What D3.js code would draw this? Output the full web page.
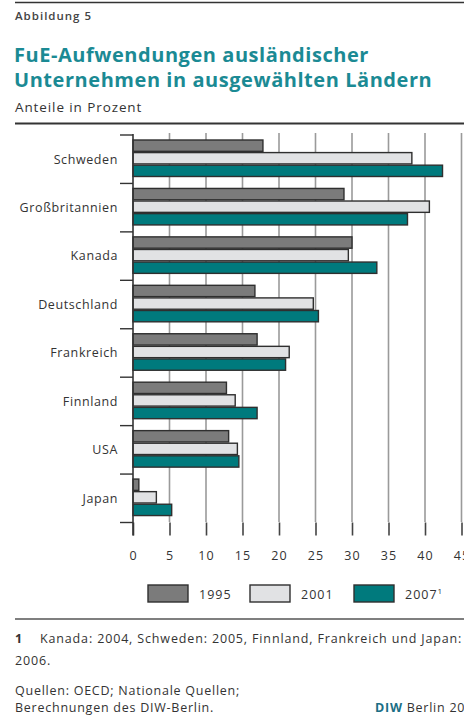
<!DOCTYPE html>
<html>
<head>
<meta charset="utf-8">
<script src="https://cdn.jsdelivr.net/npm/d3@7"></script>
<style>
  body { margin: 0; background: #fff; }
  svg { display: block; font-family: "Open Sans", sans-serif; }
</style>
</head>
<body>
<script>
//chart values
var countries = ["Schweden", "Großbritannien", "Kanada", "Deutschland", "Frankreich", "Finnland", "USA", "Japan"];
var years = ["1995", "2001", "2007"];
var v1995 = [17.8, 28.9, 30.0, 16.7, 17.0, 12.8, 13.1, 0.8];
var v2001 = [38.2, 40.6, 29.5, 24.7, 21.4, 14.0, 14.3, 3.2];
var v2007 = [42.4, 37.6, 33.4, 25.4, 20.9, 17.0, 14.5, 5.3];
var tickLabels = [0, 5, 10, 15, 20, 25, 30, 35, 40, 45];
var colors = ["#7b7b7b", "#e1e2e4", "#007a7d"];

window.onload = draw();

function draw(){
    var width = 464,
        height = 716;

    var svg = d3.select("body")
        .append("svg")
        .attr("width", width)
        .attr("height", height);

    //header rules and texts
    svg.append("line")
        .attr("x1", 15).attr("x2", width)
        .attr("y1", 2.5).attr("y2", 2.5)
        .style("stroke", "#333").style("stroke-width", 1.5);

    svg.append("text")
        .attr("x", 15).attr("y", 20)
        .style("font-size", "11.5px").style("font-weight", "600")
        .style("letter-spacing", "1px")
        .style("fill", "#444")
        .text("Abbildung 5");

    var title = svg.append("text")
        .style("font-size", "20px").style("font-weight", "bold")
        .style("letter-spacing", "0.55px")
        .style("fill", "#1b8a94");
    title.append("tspan").attr("x", 14).attr("y", 61.5).text("FuE-Aufwendungen ausländischer");
    title.append("tspan").attr("x", 14).attr("y", 86.5).text("Unternehmen in ausgewählten Ländern");

    svg.append("text")
        .attr("x", 15).attr("y", 112)
        .style("font-size", "13.5px").style("fill", "#333")
        .style("letter-spacing", "0.9px")
        .text("Anteile in Prozent");

    svg.append("line")
        .attr("x1", 15).attr("x2", width)
        .attr("y1", 123.5).attr("y2", 123.5)
        .style("stroke", "#333").style("stroke-width", 2);

    //scales
    var x = d3.scaleLinear()
        .domain([0, 45])
        .range([133, 461.5]);

    var y = d3.scaleBand()
        .domain(countries)
        .range([135, 522.5])
        .padding(0);

    var yInner = d3.scaleBand()
        .domain(years)
        .range([5, 41.5])
        .paddingInner(0.1);

    //vertical gridlines
    svg.selectAll(".grid")
        .data(tickLabels.slice(1))
        .enter()
        .append("line")
        .attr("class", "grid")
        .attr("x1", function(d){ return x(d); })
        .attr("x2", function(d){ return x(d); })
        .attr("y1", 133)
        .attr("y2", 522)
        .style("stroke", "#9a9a9a")
        .style("stroke-width", 1.6);

    //bottom axis with ticks and labels
    var xAxis = d3.axisBottom(x)
        .tickValues(tickLabels)
        .tickSizeInner(13)
        .tickSizeOuter(0)
        .tickPadding(16)
        .tickFormat(function(d){ return d; });

    var gx = svg.append("g")
        .attr("transform", "translate(0,522.5)")
        .call(xAxis);
    gx.select(".domain").remove();
    gx.selectAll(".tick line").style("stroke", "#444").style("stroke-width", 1.6);
    gx.selectAll(".tick text")
        .style("font-size", "12.5px")
        .style("letter-spacing", "1px")
        .style("fill", "#333")
        .style("font-family", "'Open Sans', sans-serif");

    //bars
    var series = [v1995, v2001, v2007];
    var rows = [];
    countries.forEach(function(c, i){
        years.forEach(function(yr, j){
            rows.push({country: c, year: yr, value: series[j][i], k: j});
        });
    });

    svg.selectAll(".bar")
        .data(rows)
        .enter()
        .append("rect")
        .attr("class", "bar")
        .attr("x", x(0))
        .attr("y", function(d){ return y(d.country) + yInner(d.year); })
        .attr("width", function(d){ return x(d.value) - x(0); })
        .attr("height", yInner.bandwidth())
        .style("fill", function(d){ return colors[d.k]; })
        .style("stroke", "#2f2f2f")
        .style("stroke-width", 1.4);

    //left axis line and category separators
    svg.append("line")
        .attr("x1", x(0)).attr("x2", x(0))
        .attr("y1", 134).attr("y2", 535.5)
        .style("stroke", "#333").style("stroke-width", 1.6);

    var bounds = countries.map(function(c){ return y(c); }).concat([y.range()[1]]);
    svg.selectAll(".ytick")
        .data(bounds)
        .enter()
        .append("line")
        .attr("class", "ytick")
        .attr("x1", 120).attr("x2", x(0))
        .attr("y1", function(d){ return d; })
        .attr("y2", function(d){ return d; })
        .style("stroke", "#333").style("stroke-width", 1.4);

    svg.selectAll(".ylabel")
        .data(countries)
        .enter()
        .append("text")
        .attr("class", "ylabel")
        .attr("x", 118)
        .attr("y", function(d){ return y(d) + y.bandwidth() / 2; })
        .attr("dy", "0.35em")
        .attr("text-anchor", "end")
        .style("font-size", "12.5px")
        .style("letter-spacing", "0.6px")
        .style("fill", "#333")
        .text(function(d){ return d; });

    //legend
    var legendX = [148, 250, 354];
    var legend = svg.selectAll(".legend")
        .data(years)
        .enter()
        .append("g")
        .attr("class", "legend")
        .attr("transform", function(d, i){ return "translate(" + legendX[i] + ",585)"; });

    legend.append("rect")
        .attr("width", 40)
        .attr("height", 17)
        .style("fill", function(d, i){ return colors[i]; })
        .style("stroke", "#2f2f2f")
        .style("stroke-width", 1.4);

    var legendText = legend.append("text")
        .attr("x", 51)
        .attr("y", 13.5)
        .style("font-size", "12.5px")
        .style("letter-spacing", "1px")
        .style("fill", "#333")
        .text(function(d){ return d; });
    legendText.filter(function(d){ return d === "2007"; })
        .append("tspan")
        .attr("dy", -5)
        .style("font-size", "8px")
        .text("1");

    //footer
    svg.append("line")
        .attr("x1", 15).attr("x2", width)
        .attr("y1", 619).attr("y2", 619)
        .style("stroke", "#555").style("stroke-width", 1.5);

    var foot = svg.append("text")
        .style("font-size", "12.5px").style("fill", "#333")
        .style("letter-spacing", "0.85px");
    foot.append("tspan").attr("x", 15).attr("y", 643)
        .style("font-weight", "bold").text("1");
    foot.append("tspan").attr("x", 40).attr("y", 643)
        .text("Kanada: 2004, Schweden: 2005, Finnland, Frankreich und Japan:");
    foot.append("tspan").attr("x", 15).attr("y", 665).text("2006.");

    var src = svg.append("text")
        .style("font-size", "12.5px").style("fill", "#333")
        .style("letter-spacing", "0.75px");
    src.append("tspan").attr("x", 15).attr("y", 695).text("Quellen: OECD; Nationale Quellen;");
    src.append("tspan").attr("x", 15).attr("y", 712).text("Berechnungen des DIW-Berlin.");

    var diw = svg.append("text")
        .attr("x", 375).attr("y", 712)
        .style("font-size", "12.5px").style("fill", "#333")
        .style("letter-spacing", "0.75px");
    diw.append("tspan").style("font-weight", "bold").style("fill", "#1b6f86").text("DIW");
    diw.append("tspan").text(" Berlin 2009");
}
</script>
</body>
</html>
